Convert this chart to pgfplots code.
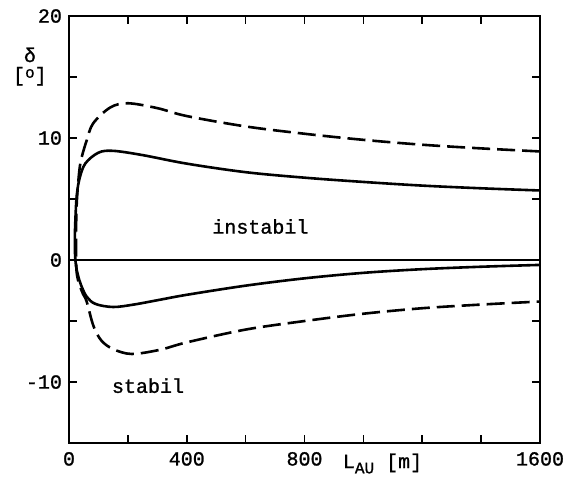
\documentclass[border=0pt]{standalone}
\usepackage{pgfplots}
\pgfplotsset{compat=1.18}
\usepackage{fontspec}
\setmainfont{Liberation Mono}[FakeBold=1.2]
\setmonofont{Liberation Mono}[FakeBold=1.2]
\begin{document}
\begin{tikzpicture}
\begin{axis}[
  width=235.5pt, height=213.5pt, scale only axis,
  xmin=0, xmax=1600, ymin=-15, ymax=20,
  xtick={0,200,...,1600},
  xticklabels={0,,400,,800,,,,1600},
  ytick={-15,-10,...,20},
  yticklabels={,-10,,0,,10,,20},
  tick align=inside,
  major tick length=4pt,
  axis line style={line width=1pt},
  every tick/.style={line width=0.8pt, black},
  ticklabel style={font=\fontsize{10}{12}\selectfont},
  xticklabel style={yshift=-1pt},
  /pgf/number format/assume math mode=true,
  clip=false,
]
% bounding box
\path (rel axis cs:-0.1465,-0.0796) rectangle (rel axis cs:1.070,1.0375);
% zero line
\addplot[line width=0.6pt, black] coordinates {(0,0) (1600,0)};
% solid curve
\addplot[line width=1.3pt, black, smooth, tension=0.55] coordinates {
(1600,5.7)(1400,5.88)(1200,6.1)(1000,6.4)(800,6.75)(600,7.2)(400,7.9)(250,8.6)(150,8.95)(100,8.8)(55,7.9)(35,6.6)(26,5.2)(22,3.5)(20,2)(20.5,0.5)(24,-0.5)(30,-1.2)(40,-2.0)(60,-3.0)(90,-3.6)(150,-3.85)(220,-3.65)(310,-3.25)(400,-2.85)(600,-2.1)(800,-1.5)(1000,-1.05)(1200,-0.75)(1400,-0.55)(1600,-0.4)
};
% dashed curve
\addplot[line width=1.3pt, black, smooth, tension=0.55, dash pattern=on 9pt off 3.5pt] coordinates {
(1600,8.9)(1400,9.15)(1200,9.45)(1000,9.85)(800,10.35)(600,10.95)(400,11.8)(300,12.45)(200,12.85)(140,12.5)(82,11.2)(60,9.8)(45,8.6)(37,7.7)(30,6.0)(26,4.5)(24,2.5)(24,0)(27,-1.2)(35,-2.0)(48,-2.8)(60,-3.4)(83,-5.4)(110,-6.6)(150,-7.3)(213,-7.7)(310,-7.35)(400,-6.75)(600,-5.7)(800,-5.0)(1000,-4.4)(1200,-3.95)(1400,-3.65)(1600,-3.4)
};
\node[anchor=west, font=\fontsize{10}{12}\selectfont] at (axis cs:463,2.75) {instabil};
\node[anchor=west, font=\fontsize{10}{12}\selectfont] at (axis cs:122,-10.3) {stabil};
\node[font=\fontsize{10}{12}\selectfont] at (rel axis cs:-0.083,0.909) {δ};
\node[font=\fontsize{10}{12}\selectfont] at (rel axis cs:-0.083,0.859) {[\raisebox{0.35ex}{\fontsize{8}{9}\selectfont o}]};
\node[anchor=base, font=\fontsize{10}{12}\selectfont] at (axis cs:1065,-15) [yshift=-12.5pt] {L\raisebox{-0.5ex}{\fontsize{8}{9}\selectfont AU} [m]};
\end{axis}
\end{tikzpicture}
\end{document}
